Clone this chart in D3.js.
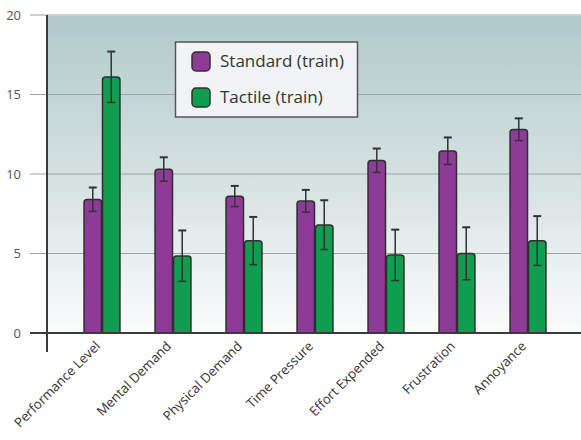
<!DOCTYPE html>
<html>
<head>
<meta charset="utf-8">
<script src="https://cdn.jsdelivr.net/npm/d3@7"></script>
<style>
  body { margin: 0; background: #fff; }
  svg { display: block; font-family: "Open Sans", "Noto Sans", sans-serif; }
</style>
</head>
<body>
<div id="container"></div>
<script>
// data
const categories = ['Performance Level', 'Mental Demand', 'Physical Demand', 'Time Pressure',
                    'Effort Expended', 'Frustration', 'Annoyance'];
const seriesNames = ['Standard (train)', 'Tactile (train)'];
const standardVals = [8.4, 10.3, 8.6, 8.3, 10.85, 11.45, 12.8];
const standardErr = [0.75, 0.75, 0.65, 0.7, 0.75, 0.85, 0.7];
const tactileVals = [16.1, 4.85, 5.8, 6.8, 4.9, 5.0, 5.8];
const tactileErr = [1.6, 1.6, 1.5, 1.55, 1.6, 1.65, 1.55];
const yTicks = [0, 5, 10, 15, 20];

const colors = ['#8e3a97', '#109d4f'];

const width = 581;
const height = 440;

const svg = d3.select('#container')
              .append('svg')
              .attr('width', width)
              .attr('height', height);

// scales
const x = d3.scaleBand()
            .domain(categories)
            .range([66.5, 563.5])
            .paddingInner(0.48)
            .paddingOuter(0.24);

const xSub = d3.scaleBand()
               .domain(seriesNames)
               .range([0, x.bandwidth()]);

const y = d3.scaleLinear()
            .domain([0, 20])
            .range([333, 15]);

// plot background gradient
const defs = svg.append('defs');
const grad = defs.append('linearGradient')
                 .attr('id', 'bg')
                 .attr('x1', 0).attr('y1', 0)
                 .attr('x2', 0).attr('y2', 1);
grad.append('stop').attr('offset', '0%').attr('stop-color', '#b0cac9');
grad.append('stop').attr('offset', '55%').attr('stop-color', '#d8e3e3');
grad.append('stop').attr('offset', '100%').attr('stop-color', '#fbfcfc');

svg.append('rect')
   .attr('x', 47)
   .attr('y', y(20))
   .attr('width', width - 47)
   .attr('height', y(0) - y(20))
   .attr('fill', 'url(#bg)');

// grid lines
svg.append('g')
   .selectAll('line')
   .data(yTicks.filter(d => d > 0))
   .enter()
   .append('line')
   .attr('x1', 30)
   .attr('x2', width)
   .attr('y1', d => y(d))
   .attr('y2', d => y(d))
   .attr('stroke', d => d === 20 ? '#cfcfcf' : '#9aa6a6')
   .attr('stroke-width', d => d === 20 ? 2 : 1.2);

// y tick labels
svg.append('g')
   .selectAll('text')
   .data(yTicks)
   .enter()
   .append('text')
   .attr('x', 21)
   .attr('y', d => y(d))
   .attr('dy', '0.35em')
   .attr('text-anchor', 'end')
   .attr('fill', '#555')
   .attr('font-size', 13)
   .text(d => d);

// bars
const series = [
  { name: seriesNames[0], vals: standardVals, err: standardErr, color: colors[0] },
  { name: seriesNames[1], vals: tactileVals, err: tactileErr, color: colors[1] }
];

// bar with rounded top corners
function barPath(x0, w, top, bottom, r) {
  return `M${x0},${bottom}V${top + r}Q${x0},${top} ${x0 + r},${top}` +
         `H${x0 + w - r}Q${x0 + w},${top} ${x0 + w},${top + r}V${bottom}Z`;
}

series.forEach(s => {
  const g = svg.append('g');
  g.selectAll('path')
   .data(categories)
   .enter()
   .append('path')
   .attr('d', (c, i) => barPath(x(c) + xSub(s.name) + 0.5, xSub.bandwidth() - 1,
                                y(s.vals[i]), y(0), 3))
   .attr('fill', s.color)
   .attr('stroke', '#2f2f2f')
   .attr('stroke-width', 1.5);

  // error bars
  const eg = svg.append('g').attr('stroke', '#333').attr('stroke-width', 1.5);
  categories.forEach((c, i) => {
    const cx = x(c) + xSub(s.name) + xSub.bandwidth() / 2;
    const hi = y(s.vals[i] + s.err[i]);
    const lo = y(s.vals[i] - s.err[i]);
    eg.append('line').attr('x1', cx).attr('x2', cx).attr('y1', hi).attr('y2', lo);
    eg.append('line').attr('x1', cx - 4).attr('x2', cx + 4).attr('y1', hi).attr('y2', hi)
      .attr('stroke-width', 2);
    eg.append('line').attr('x1', cx - 4).attr('x2', cx + 4).attr('y1', lo).attr('y2', lo);
  });
});

// axes lines
svg.append('line')
   .attr('x1', 30).attr('x2', width)
   .attr('y1', y(0)).attr('y2', y(0))
   .attr('stroke', '#3a3a3a').attr('stroke-width', 2);

svg.append('line')
   .attr('x1', 47).attr('x2', 47)
   .attr('y1', y(20)).attr('y2', 352)
   .attr('stroke', '#3a3a3a').attr('stroke-width', 2);

// x labels, rotated
svg.append('g')
   .selectAll('text')
   .data(categories)
   .enter()
   .append('text')
   .attr('transform', c => `translate(${x(c) + x.bandwidth() / 2 - 1},${y(0) + 14}) rotate(-45)`)
   .attr('text-anchor', 'end')
   .attr('fill', '#333')
   .attr('font-size', 13.2)
   .text(c => c);

// legend
const legend = svg.append('g');
legend.append('rect')
      .attr('x', 175.5).attr('y', 42)
      .attr('width', 182).attr('height', 75)
      .attr('fill', '#f1f4f4')
      .attr('stroke', '#555')
      .attr('stroke-width', 1.5);

series.forEach((s, i) => {
  legend.append('rect')
        .attr('x', 192).attr('y', 52 + i * 36)
        .attr('width', 18).attr('height', 19)
        .attr('rx', 4)
        .attr('fill', s.color)
        .attr('stroke', '#2f2f2f')
        .attr('stroke-width', 1.5);
  legend.append('text')
        .attr('x', 220).attr('y', 61.5 + i * 36)
        .attr('dy', '0.35em')
        .attr('fill', '#333')
        .attr('font-size', 17)
        .text(s.name);
});
</script>
</body>
</html>
